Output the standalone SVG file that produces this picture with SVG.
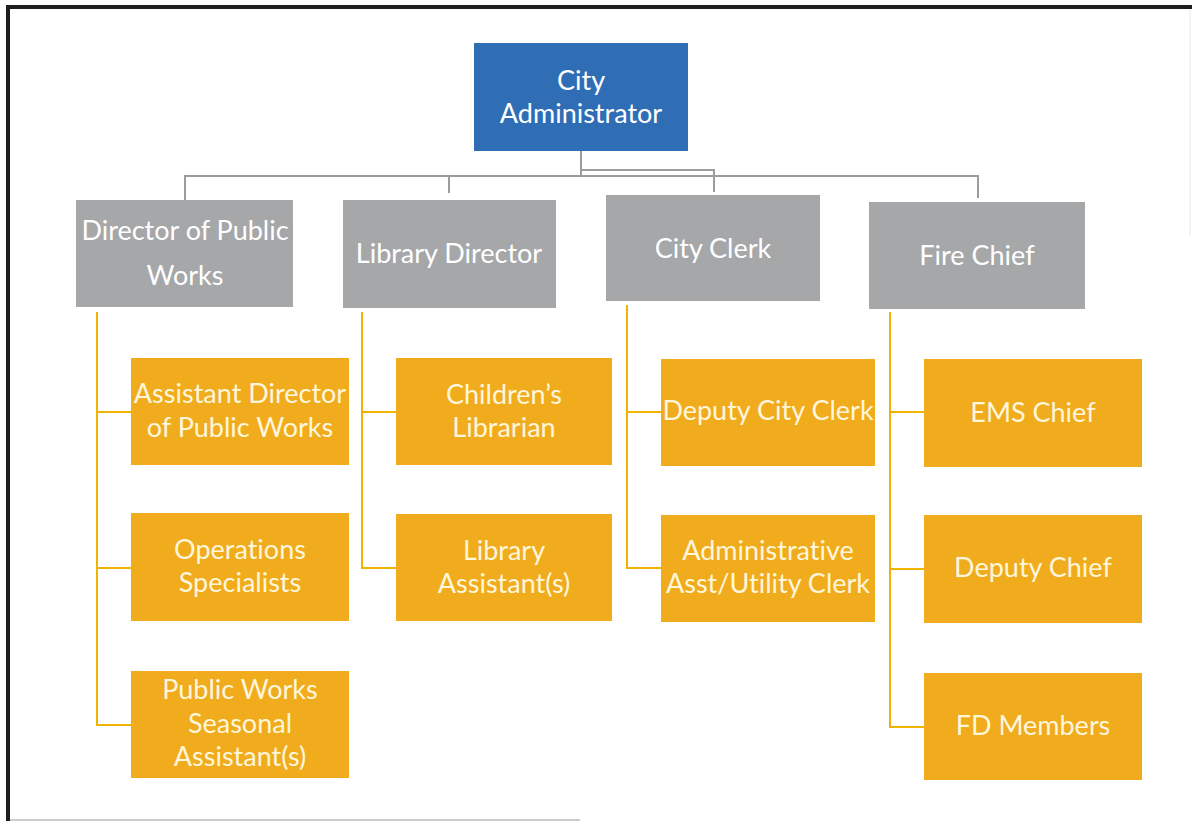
<svg xmlns="http://www.w3.org/2000/svg" width="1192" height="822" viewBox="0 0 1192 822">
  <style>
    .frame { fill: none; stroke: #1e1e1e; stroke-width: 4; }
    .top { fill: #2f6db4; }
    .head { fill: #a6a7a9; }
    .staff { fill: #f0ac1c; }
    .lbl { font-family: Lato, "Liberation Sans", sans-serif; font-size: 27px; fill: #ffffff; text-anchor: middle; font-variant-ligatures: none; }
    .lbl-s { fill: #fff6dc; }
    .gline { fill: none; stroke: #9c9c9c; stroke-width: 2; }
    .yline { fill: none; stroke: #f0b400; stroke-width: 2; }
  </style>

  <rect width="1192" height="822" fill="#ffffff"/>
  <!-- page frame -->
  <path class="frame" d="M8,821 V7 H1192"/>
  <line x1="10" y1="820" x2="580" y2="820" stroke="#bdbdbd" stroke-width="1.5"/>
  <line x1="1190" y1="10" x2="1190" y2="235" stroke="#e6e6e6" stroke-width="1"/>

  <!-- connectors -->
  <g id="connectors">
    <path class="gline" d="M581,151 V176 M185,200 V176 H978 V198 M449,176 V193 M581,170 H714 V192"/>
    <path class="yline" d="M97,312 V725 H131 M97,412 H131 M97,568 H131"/>
    <path class="yline" d="M362,312 V568 H396 M362,412 H396"/>
    <path class="yline" d="M627,305 V568 H661 M627,412 H661"/>
    <path class="yline" d="M890,312 V727 H924 M890,412 H924 M890,569 H924"/>
  </g>

  <g id="city-administrator">
    <rect class="top" x="474" y="43" width="214" height="108"/>
    <text class="lbl" x="581" y="90">City</text>
    <text class="lbl" x="581" y="123">Administrator</text>
  </g>

  <g id="director-public-works">
    <rect class="head" x="76" y="200" width="217" height="107"/>
    <text class="lbl" x="185" y="240">Director of Public</text>
    <text class="lbl" x="185" y="285">Works</text>
  </g>
  <g id="library-director">
    <rect class="head" x="343" y="200" width="213" height="108"/>
    <text class="lbl" x="449" y="263">Library Director</text>
  </g>
  <g id="city-clerk">
    <rect class="head" x="606" y="195" width="214" height="106"/>
    <text class="lbl" x="713" y="258">City Clerk</text>
  </g>
  <g id="fire-chief">
    <rect class="head" x="869" y="202" width="216" height="107"/>
    <text class="lbl" x="977" y="265">Fire Chief</text>
  </g>

  <!-- Public Works staff -->
  <g id="assistant-director-public-works">
    <rect class="staff" x="131" y="358" width="218" height="107"/>
    <text class="lbl lbl-s" x="240" y="403">Assistant Director</text>
    <text class="lbl lbl-s" x="240" y="437">of Public Works</text>
  </g>
  <g id="operations-specialists">
    <rect class="staff" x="131" y="513" width="218" height="108"/>
    <text class="lbl lbl-s" x="240" y="559">Operations</text>
    <text class="lbl lbl-s" x="240" y="592">Specialists</text>
  </g>
  <g id="public-works-seasonal">
    <rect class="staff" x="131" y="671" width="218" height="107"/>
    <text class="lbl lbl-s" x="240" y="699">Public Works</text>
    <text class="lbl lbl-s" x="240" y="733">Seasonal</text>
    <text class="lbl lbl-s" x="240" y="766">Assistant(s)</text>
  </g>

  <!-- Library staff -->
  <g id="childrens-librarian">
    <rect class="staff" x="396" y="358" width="216" height="107"/>
    <text class="lbl lbl-s" x="504" y="404">Children’s</text>
    <text class="lbl lbl-s" x="504" y="437">Librarian</text>
  </g>
  <g id="library-assistants">
    <rect class="staff" x="396" y="514" width="216" height="107"/>
    <text class="lbl lbl-s" x="504" y="560">Library</text>
    <text class="lbl lbl-s" x="504" y="593">Assistant(s)</text>
  </g>

  <!-- City Clerk staff -->
  <g id="deputy-city-clerk">
    <rect class="staff" x="661" y="359" width="214" height="107"/>
    <text class="lbl lbl-s" x="768" y="420">Deputy City Clerk</text>
  </g>
  <g id="administrative-asst">
    <rect class="staff" x="661" y="515" width="214" height="107"/>
    <text class="lbl lbl-s" x="768" y="560">Administrative</text>
    <text class="lbl lbl-s" x="768" y="593">Asst/Utility Clerk</text>
  </g>

  <!-- Fire Department staff -->
  <g id="ems-chief">
    <rect class="staff" x="924" y="359" width="218" height="108"/>
    <text class="lbl lbl-s" x="1033" y="422">EMS Chief</text>
  </g>
  <g id="deputy-chief">
    <rect class="staff" x="924" y="515" width="218" height="108"/>
    <text class="lbl lbl-s" x="1033" y="577">Deputy Chief</text>
  </g>
  <g id="fd-members">
    <rect class="staff" x="924" y="673" width="218" height="107"/>
    <text class="lbl lbl-s" x="1033" y="735">FD Members</text>
  </g>
</svg>
